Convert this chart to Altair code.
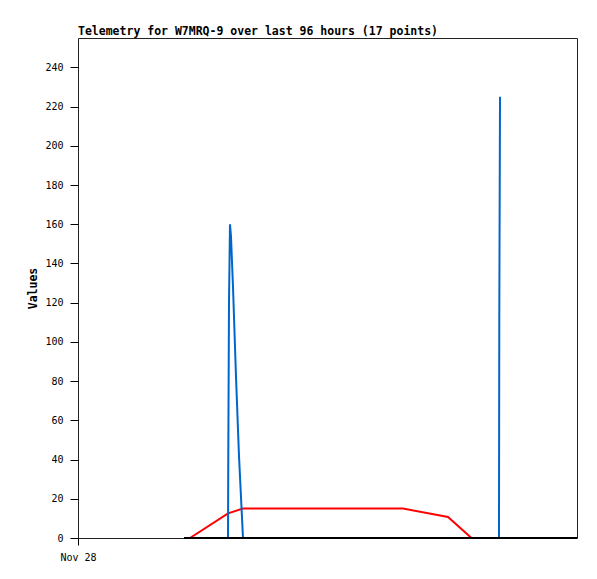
import altair as alt
import pandas as pd

# x positions in hours since Nov 28 00:00 (96-hour window)
red_hours = [21.55, 28.86, 31.74, 62.53, 71.18, 75.70]
red_values = [0, 12.6, 15, 15, 10.7, 0]

blue_hours = [20.39, 28.86, 28.91, 29.05, 29.24, 29.43, 29.82, 30.40, 30.97, 31.74, 80.99, 81.05, 81.19]
blue_values = [0, 0, 40, 120, 160, 154, 128, 82, 42, 0, 0, 112, 225]

black_hours = [20.39, 96.0]
black_values = [0, 0]

y_ticks = list(range(0, 241, 20))
x_tick_label = "Nov 28"

red_df = pd.DataFrame({"h": red_hours, "v": red_values})
blue_df = pd.DataFrame({"h": blue_hours, "v": blue_values})
black_df = pd.DataFrame({"h": black_hours, "v": black_values})

mono = "DejaVu Sans Mono"

x_enc = alt.X("h:Q", scale=alt.Scale(domain=[0, 96], nice=False, zero=False),
              axis=alt.Axis(values=[0], labelExpr=f"'{x_tick_label}'", title=None,
                            grid=False, domain=False, tickSize=7, tickColor="black",
                            labelFont=mono, labelFontSize=10, labelColor="black",
                            labelAlign="center", labelFlush=False,
                            labelPadding=7))
y_enc = alt.Y("v:Q", scale=alt.Scale(domain=[0, 255], nice=False),
              axis=alt.Axis(values=y_ticks, title="Values", grid=False, domain=False,
                            tickSize=8, tickColor="black",
                            labelFont=mono, labelFontSize=10, labelColor="black",
                            labelPadding=7, titleFont=mono, titleFontSize=11.5,
                            titleFontWeight="bold", titleColor="black", titlePadding=6))

red = alt.Chart(red_df).mark_line(color="#ff0000", strokeWidth=2).encode(x=x_enc, y=y_enc)
blue = alt.Chart(blue_df).mark_line(color="#0066cc", strokeWidth=2).encode(x=x_enc, y=y_enc)
black = alt.Chart(black_df).mark_line(color="#000000", strokeWidth=2).encode(x=x_enc, y=y_enc)

chart = alt.layer(red, blue, black).properties(
    width=499, height=500,
    title=alt.TitleParams("Telemetry for W7MRQ-9 over last 96 hours (17 points)",
                          anchor="start", frame="group", font=mono, fontSize=11.5,
                          fontWeight="bold", color="black", offset=1),
    padding={"left": 70, "top": 30, "right": 12, "bottom": 33},
    autosize="none",
).configure_view(stroke="#222222", strokeWidth=1)

chart.save("out.html", embed_options={"renderer": "svg", "actions": False})
